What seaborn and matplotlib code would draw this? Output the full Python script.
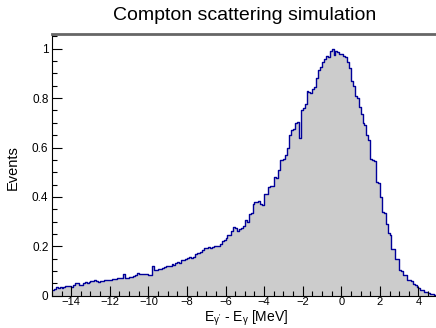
import numpy as np
import pandas as pd
import seaborn as sns
import matplotlib.pyplot as plt
from matplotlib.ticker import FixedLocator, MultipleLocator, FuncFormatter

# Histogram binning: 200 bins from -15 to 5 MeV
bin_width = 0.1
bin_range = (-15, 5)
bin_centers = np.arange(-15, 5, bin_width) + bin_width / 2

# Normalised counts, 10 bins per MeV
events = [
    0.024, 0.028, 0.034, 0.032, 0.035, 0.033, 0.036, 0.040, 0.038, 0.041,   # -15..-14
    0.036, 0.045, 0.054, 0.052, 0.042, 0.044, 0.054, 0.055, 0.053, 0.056,   # -14..-13
    0.062, 0.060, 0.063, 0.061, 0.058, 0.060, 0.062, 0.065, 0.063, 0.066,   # -13..-12
    0.065, 0.068, 0.070, 0.069, 0.072, 0.071, 0.073, 0.090, 0.072, 0.074,   # -12..-11
    0.076, 0.078, 0.082, 0.086, 0.093, 0.088, 0.087, 0.089, 0.088, 0.090,   # -11..-10
    0.086, 0.085, 0.120, 0.105, 0.104, 0.108, 0.110, 0.112, 0.118, 0.120,   # -10..-9
    0.119, 0.122, 0.128, 0.125, 0.132, 0.136, 0.134, 0.145, 0.147, 0.150,   # -9..-8
    0.154, 0.156, 0.152, 0.158, 0.170, 0.175, 0.173, 0.176, 0.185, 0.193,   # -8..-7
    0.194, 0.196, 0.193, 0.196, 0.200, 0.202, 0.201, 0.210, 0.222, 0.225,   # -7..-6
    0.235, 0.248, 0.246, 0.262, 0.280, 0.276, 0.262, 0.270, 0.274, 0.282,   # -6..-5
    0.305, 0.300, 0.330, 0.335, 0.370, 0.380, 0.378, 0.385, 0.372, 0.368,   # -5..-4
    0.410, 0.412, 0.440, 0.445, 0.445, 0.480, 0.478, 0.510, 0.550, 0.548,   # -4..-3
    0.552, 0.570, 0.600, 0.650, 0.670, 0.675, 0.700, 0.705, 0.640, 0.750,   # -3..-2
    0.760, 0.775, 0.830, 0.825, 0.820, 0.838, 0.845, 0.880, 0.915, 0.925,   # -2..-1
    0.945, 0.960, 0.972, 0.968, 0.990, 1.000, 0.975, 0.992, 0.985, 0.978,   # -1..0
    0.980, 0.972, 0.965, 0.945, 0.920, 0.870, 0.850, 0.810, 0.800, 0.765,   # 0..1
    0.735, 0.700, 0.690, 0.650, 0.630, 0.555, 0.550, 0.545, 0.460, 0.458,   # 1..2
    0.400, 0.340, 0.335, 0.290, 0.255, 0.245, 0.190, 0.188, 0.150, 0.148,   # 2..3
    0.105, 0.100, 0.086, 0.084, 0.066, 0.064, 0.062, 0.046, 0.044, 0.034,   # 3..4
    0.030, 0.025, 0.022, 0.017, 0.016, 0.012, 0.009, 0.007, 0.005, 0.004,   # 4..5
]

x_major = [-14, -12, -10, -8, -6, -4, -2, 0, 2, 4]
y_major = [0, 0.2, 0.4, 0.6, 0.8, 1]

df = pd.DataFrame({"dE": bin_centers, "events": events})

sns.set_style("ticks")
plt.rcParams['font.family'] = ['Liberation Sans', 'DejaVu Sans']
plt.rcParams['text.color'] = 'black'
plt.rcParams['xtick.color'] = 'black'
plt.rcParams['ytick.color'] = 'black'
plt.rcParams['axes.labelcolor'] = 'black'

fig = plt.figure(figsize=(4.36, 3.28), dpi=100)
ax = fig.add_axes([0.119, 0.098, 0.885, 0.799])
ax.set_axisbelow(False)

# grey filled area, then the dark blue outline
sns.histplot(data=df, x="dE", weights="events", binwidth=bin_width, binrange=bin_range,
             element="step", fill=True, color="#cccccc", alpha=1, linewidth=0, ax=ax)
sns.histplot(data=df, x="dE", weights="events", binwidth=bin_width, binrange=bin_range,
             element="step", fill=False, color="#000099", linewidth=1.0, ax=ax)

ax.set_xlim(-15, 5)
ax.set_ylim(0, 1.06)

ax.xaxis.set_major_locator(FixedLocator(x_major))
ax.xaxis.set_minor_locator(MultipleLocator(0.5))
ax.yaxis.set_major_locator(FixedLocator(y_major))
ax.yaxis.set_minor_locator(MultipleLocator(0.05))
ax.yaxis.set_major_formatter(FuncFormatter(lambda v, p: f"{v:g}"))
ax.xaxis.set_major_formatter(FuncFormatter(lambda v, p: f"{v:g}".replace("-", "\u2212")))

ax.tick_params(which="major", direction="in", length=7, width=0.8, labelsize=8.5, pad=2.5)
ax.tick_params(axis="x", which="major", labelsize=8, pad=1)
ax.tick_params(which="minor", direction="in", length=3.5, width=0.8)
ax.tick_params(axis="x", which="both", top=False)
ax.tick_params(axis="y", which="both", right=False)

for s in ["left", "bottom"]:
    ax.spines[s].set_linewidth(0.8)
    ax.spines[s].set_color("black")
ax.spines["top"].set_visible(True)
ax.spines["top"].set_linewidth(2)
ax.spines["top"].set_color("#666666")
ax.spines["right"].set_visible(False)

ax.set_xlabel("E$_{\\mathregular{\u03b3'}}$ - E$_{\\mathregular{\u03b3}}$ [MeV]", fontsize=10)
ax.xaxis.label.set_va("top")
ax.xaxis.set_label_coords(0.503, -0.05)
ax.set_ylabel("Events", fontsize=10.5)
ax.yaxis.label.set_va("center")
ax.yaxis.set_label_coords(-0.101, 0.49)
fig.suptitle("Compton scattering simulation", fontsize=14, x=0.562, y=0.978)

fig.savefig("out.png", dpi=100)
